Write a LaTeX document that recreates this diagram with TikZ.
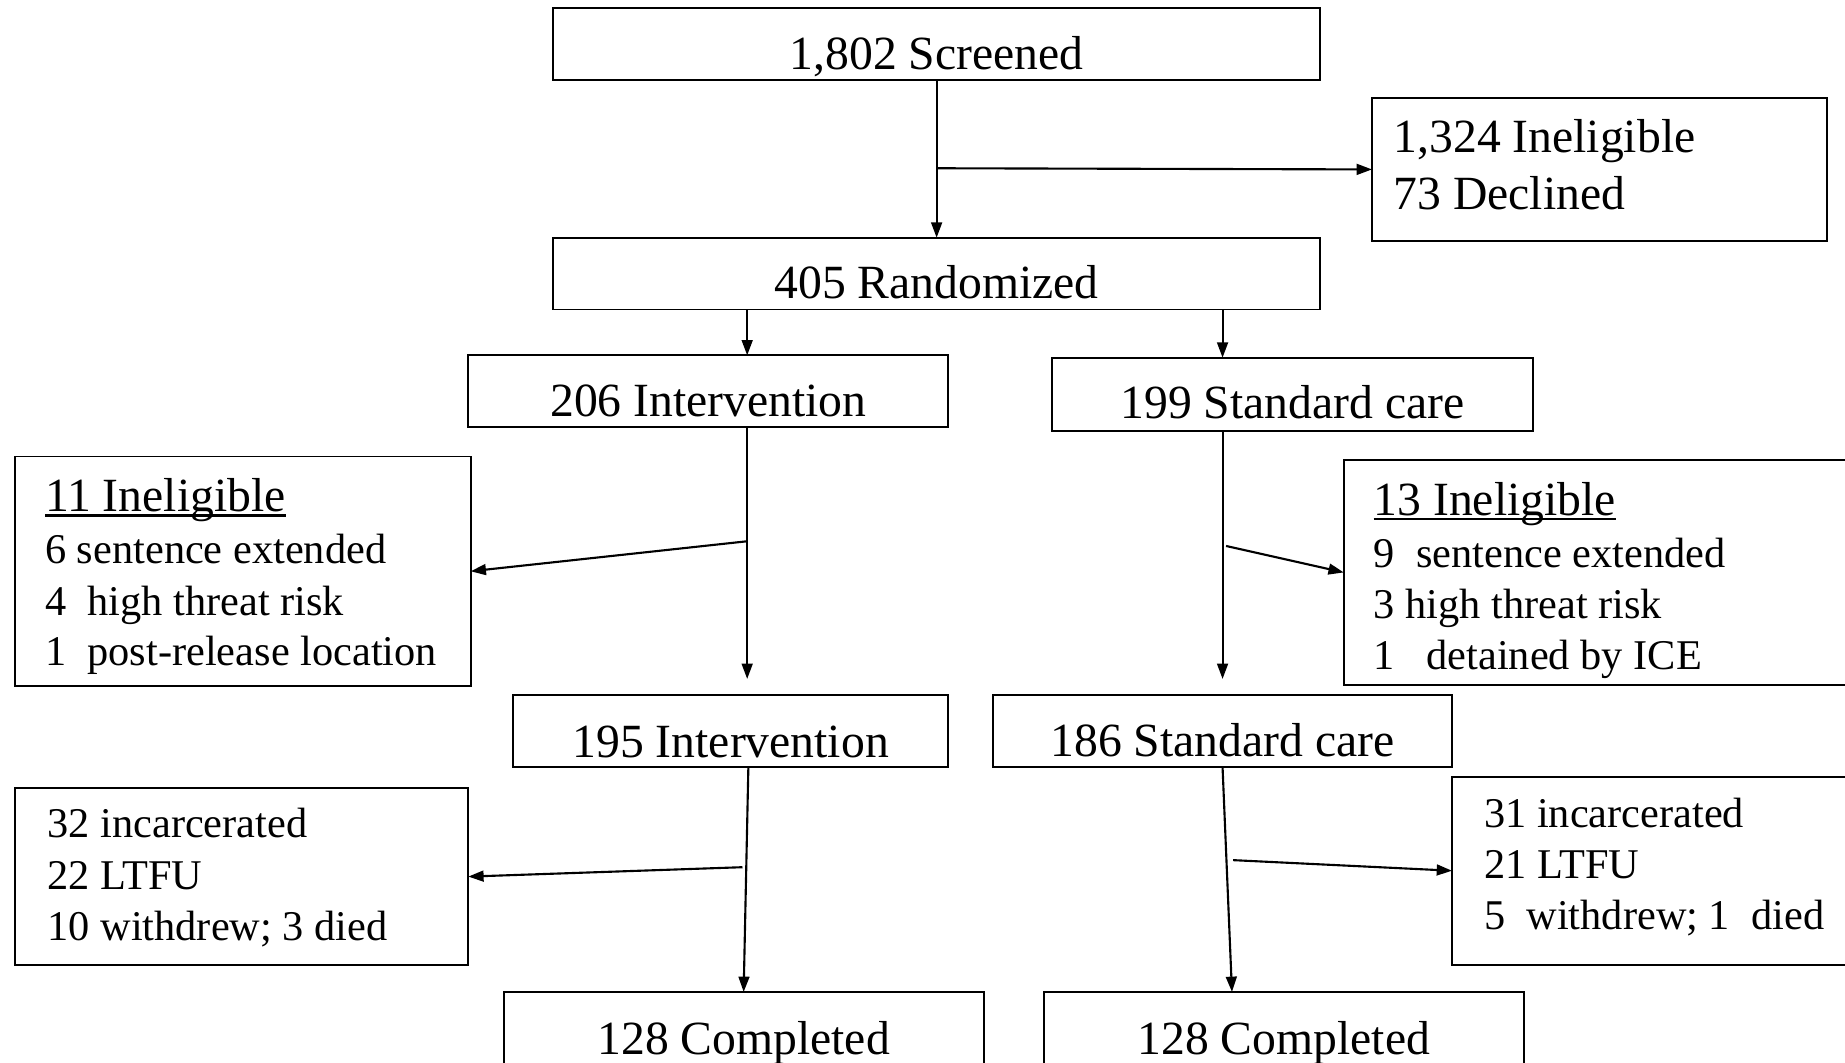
\documentclass[tikz,border=0pt]{standalone}
\usepackage{fontspec}
\setmainfont{Liberation Serif}
\usetikzlibrary{arrows.meta,fit}
\newcommand{\myul}[1]{\setbox0\hbox{#1}\rlap{\rule[-0.10em]{\wd0}{0.055em}}\box0}
\begin{document}
\begin{tikzpicture}[x=0.5pt,y=-0.5pt,
  box/.style={draw, line width=0.8pt, inner sep=0pt, outer sep=0pt},
  big/.style={inner sep=0pt, font=\fontsize{20.25}{22}\selectfont},
  small/.style={inner sep=0pt, font=\fontsize{18}{22}\selectfont},
  arr/.style={line width=0.9pt, -{Triangle[length=6.5pt,width=4.6pt]}}]
\useasboundingbox (0,0) rectangle (1568,903);
\fill[white] (0,0) rectangle (1568,903);
\clip (0,0) rectangle (1568,903);

% boxes
\node[box, fit={(470,7) (1122,68)}] (scr) {};
\node[box, fit={(1166,83) (1553,205)}] (inel) {};
\node[box, fit={(470,202) (1122,263)}] (rand) {};
\node[box, fit={(398,302) (806,363)}] (int1) {};
\node[box, fit={(894,304) (1303,366)}] (std1) {};
\node[box, fit={(13,388) (400,583)}] (inA) {};
\node[box, fit={(1142,391) (1580,582)}] (inB) {};
\node[box, fit={(436,591) (806,652)}] (int2) {};
\node[box, fit={(844,591) (1234,652)}] (std2) {};
\node[box, fit={(13,670) (398,820)}] (loA) {};
\node[box, fit={(1234,660) (1580,820)}] (loB) {};
\node[box, fit={(428,843) (836,930)}] (comp1) {};
\node[box, fit={(887,843) (1295,930)}] (comp2) {};

% texts
\node[big, anchor=base] (scrT) at (796,59) {1,802 Screened};
\node[big, anchor=base west] (inelT1) at (1184,130) {1,324 Ineligible};
\node[big, anchor=base west] (inelT2) at (1184,178) {73 Declined};
\node[big, anchor=base] (randT) at (796,254) {405 Randomized};
\node[big, anchor=base] (int1T) at (602,354) {206 Intervention};
\node[big, anchor=base] (std1T) at (1098.5,356) {199 Standard care};

\node[big, anchor=base west] (inAT1) at (38,435) {\myul{11 Ineligible}};
\node[small, anchor=base west] (inAT2) at (38,479) {6 sentence extended};
\node[small, anchor=base west] (inAT3) at (38,523) {4\ \ high threat risk};
\node[small, anchor=base west] (inAT4) at (38,566) {1\ \ post-release location};

\node[big, anchor=base west] (inBT1) at (1167,438) {\myul{13 Ineligible}};
\node[small, anchor=base west] (inBT2) at (1167,482) {9\ \ sentence extended};
\node[small, anchor=base west] (inBT3) at (1167,526) {3 high threat risk};
\node[small, anchor=base west] (inBT4) at (1167,569) {1\ \ \ detained by ICE};

\node[big, anchor=base] (int2T) at (621,644) {195 Intervention};
\node[big, anchor=base] (std2T) at (1039,643) {186 Standard care};

\node[small, anchor=base west] (loAT1) at (40,712) {32 incarcerated};
\node[small, anchor=base west] (loAT2) at (40,756) {22 LTFU};
\node[small, anchor=base west] (loAT3) at (40,799) {10 withdrew; 3 died};

\node[small, anchor=base west] (loBT1) at (1261,703) {31 incarcerated};
\node[small, anchor=base west] (loBT2) at (1261,747) {21 LTFU};
\node[small, anchor=base west] (loBT3) at (1261,790) {5\ \ withdrew; 1\ \ died};

\node[big, anchor=base] (comp1T) at (632,896) {128 Completed};
\node[big, anchor=base] (comp2T) at (1091,896) {128 Completed};

% helper coordinates
\coordinate (xa) at (635,0);
\coordinate (xb) at (1039,0);
\coordinate (b1) at (796,143);
\coordinate (e1) at (635,577);
\coordinate (e2) at (1039,577);
\coordinate (b2) at (635,460);
\coordinate (b3) at (1042,464);
\coordinate (s1) at (636,0);
\coordinate (b4) at (631,737);
\coordinate (t1) at (1047,0);
\coordinate (b5) at (1048,731);

% connectors
\draw[arr] (scr.south) -- (rand.north);
\draw[arr] (b1) -- (inel.west);
\draw[arr] (rand.south -| xa) -- (int1.north -| xa);
\draw[arr] (rand.south -| xb) -- (std1.north -| xb);
\draw[arr] (int1.south -| xa) -- (e1);
\draw[arr] (std1.south -| xb) -- (e2);
\draw[arr] (b2) -- (inA.east);
\draw[arr] (b3) -- (inB.west);
\draw[arr] (int2.south -| s1) -- (comp1.north);
\draw[arr] (b4) -- (loA.east);
\draw[arr] (std2.south) -- (comp2.north -| t1);
\draw[arr] (b5) -- (loB.west);
\end{tikzpicture}
\end{document}
